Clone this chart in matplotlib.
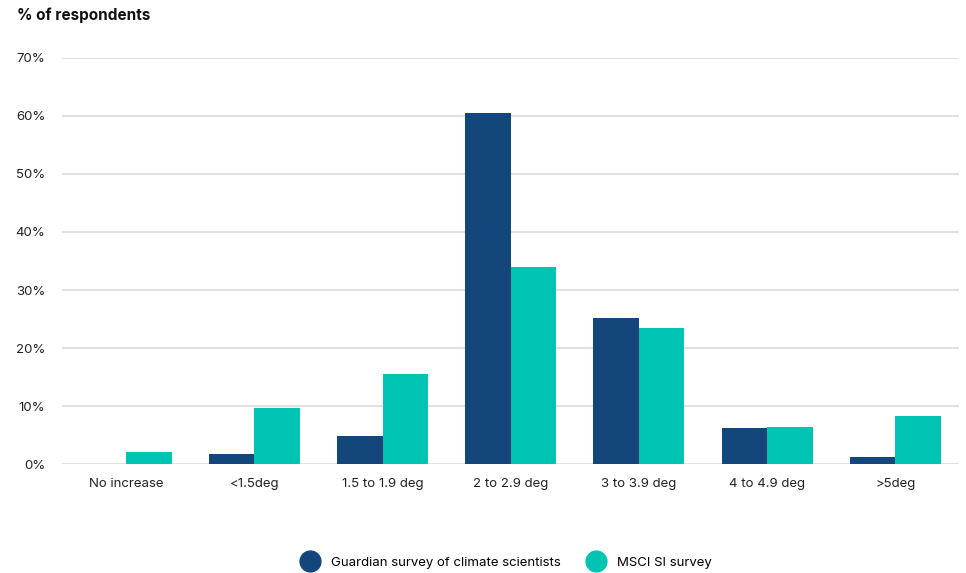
import matplotlib.pyplot as plt
import numpy as np
from matplotlib.lines import Line2D

plt.rcParams['font.family'] = ['Inter', 'DejaVu Sans']

categories = ['No increase', '<1.5deg', '1.5 to 1.9 deg', '2 to 2.9 deg',
              '3 to 3.9 deg', '4 to 4.9 deg', '>5deg']
guardian = [0, 1.7, 4.8, 60.5, 25.2, 6.2, 1.2]
msci = [2.1, 9.7, 15.5, 34.0, 23.4, 6.4, 8.3]
series_names = ['Guardian survey of climate scientists', 'MSCI SI survey']
colors = ['#13467a', '#00c4b3']

fig = plt.figure(figsize=(9.66, 5.73), dpi=100)
ax = fig.add_axes([0.0642, 0.190, 0.929, 0.709])

x = np.arange(len(categories))
w = 0.355
ax.bar(x - w / 2, guardian, w, color=colors[0], zorder=3)
ax.bar(x + w / 2, msci, w, color=colors[1], zorder=3)

ax.set_xlim(-0.5, len(categories) - 0.5)
ax.set_ylim(0, 70)
ax.set_yticks(range(0, 71, 10))
ax.set_yticklabels([f'{v}%' for v in range(0, 71, 10)])
ax.set_xticks(x)
ax.set_xticklabels(categories)
ax.grid(axis='y', color='#dcdcdc', linewidth=1.2, zorder=0)
for s in ax.spines.values():
    s.set_visible(False)
ax.tick_params(length=0, labelsize=9.5, colors='#222222')
ax.tick_params(axis='y', pad=12)
ax.tick_params(axis='x', pad=10)

fig.text(0.018, 0.973, '% of respondents', fontsize=11, fontweight='bold',
         va='center', ha='left', color='#111111')

handles = [Line2D([], [], marker='o', linestyle='', markersize=15,
                  color=c) for c in colors]
fig.legend(handles, series_names, loc='center', bbox_to_anchor=(0.522, 0.018),
           ncol=2, frameon=False, fontsize=9.5, handletextpad=0.6,
           columnspacing=1.6)

fig.savefig('out.png', dpi=100)
